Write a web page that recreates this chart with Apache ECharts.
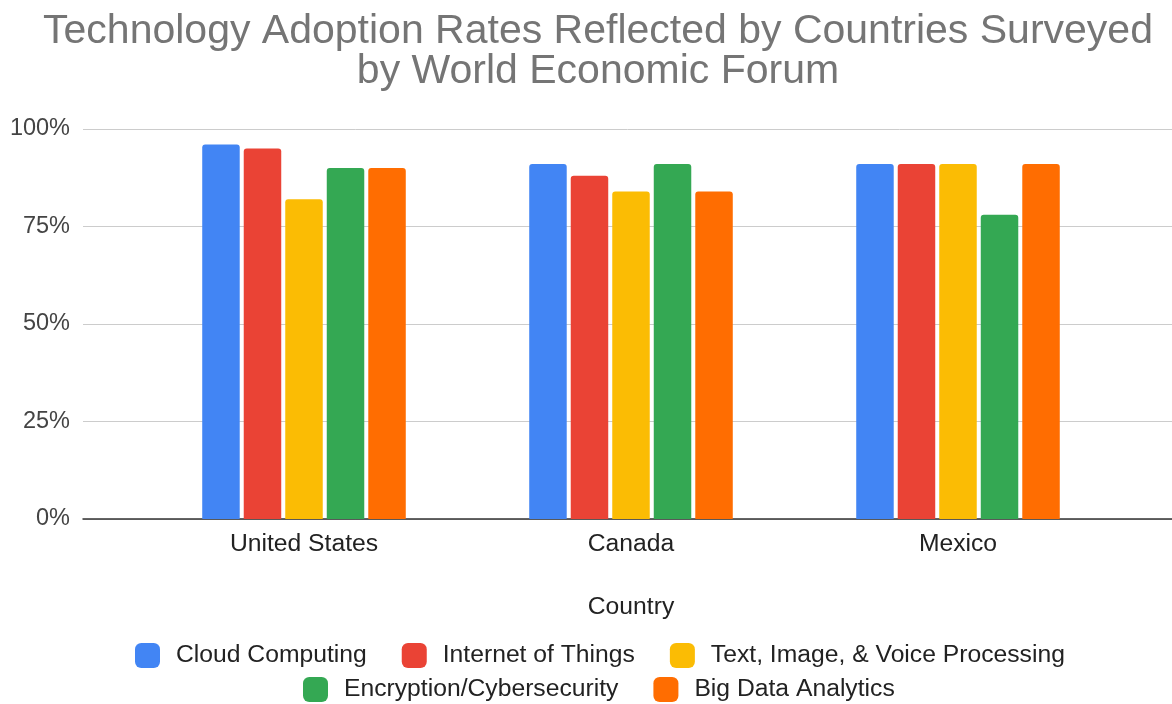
<!DOCTYPE html>
<html>
<head>
<meta charset="utf-8">
<script src="https://cdn.jsdelivr.net/npm/echarts@6/dist/echarts.min.js"></script>
<style>html,body{margin:0;padding:0;background:#fff}#c{width:1172px;height:704px}</style>
</head>
<body>
<div id="c"></div>
<script>
var categories = ['United States', 'Canada', 'Mexico'];
var cloudComputing = [96, 91, 91];
var internetOfThings = [95, 88, 91];
var textImageVoice = [82, 84, 91];
var encryption = [90, 91, 78];
var bigData = [90, 84, 91];
var seriesNames = ['Cloud Computing', 'Internet of Things', 'Text, Image, & Voice Processing', 'Encryption/Cybersecurity', 'Big Data Analytics'];
var yTicks = [0, 25, 50, 75, 100];

var colors = ['#4285F4', '#EA4335', '#FBBC04', '#34A853', '#FF6D01'];
var values = [cloudComputing, internetOfThings, textImageVoice, encryption, bigData];
var font = 'Arial, "Liberation Sans", sans-serif';

var chart = echarts.init(document.getElementById('c'), null, {renderer: 'canvas'});
var series = seriesNames.map(function (n, i) {
  return {
    name: n, type: 'bar', xAxisIndex: 0, yAxisIndex: 0,
    data: values[i], barWidth: 37.5, barGap: '10.7%',
    itemStyle: {color: colors[i], borderRadius: [3, 3, 0, 0]}
  };
});
var legendCommon = {
  itemWidth: 25, itemHeight: 25, itemGap: 35, icon: 'roundRect',
  textStyle: {fontSize: 24.7, color: '#222', fontFamily: font, padding: [0, 0, 0, 11]},
  selectedMode: false, padding: 0
};
chart.setOption({
  animation: false,
  color: colors,
  title: {
    text: 'Technology Adoption Rates Reflected by Countries Surveyed\nby World Economic Forum',
    left: 598, top: 12, padding: 0, textAlign: 'center',
    textStyle: {fontSize: 41, lineHeight: 40, color: '#757575', fontWeight: 'normal', fontFamily: font}
  },
  legend: [
    Object.assign({}, legendCommon, {top: 643, left: 135, data: seriesNames.slice(0, 3)}),
    Object.assign({}, legendCommon, {top: 677, left: 303, data: seriesNames.slice(3)})
  ],
  grid: [
    {left: 140.5, right: 50.5, top: 129, bottom: 185},
    {left: 83, right: 0, top: 129, bottom: 185}
  ],
  xAxis: [
    {
      type: 'category', gridIndex: 0, data: categories,
      axisLine: {show: false}, axisTick: {show: false},
      axisLabel: {fontSize: 24.7, color: '#222', fontFamily: font, margin: 13},
      name: 'Country', nameLocation: 'middle', nameGap: 76,
      nameTextStyle: {fontSize: 24.7, color: '#222', fontFamily: font}
    },
    {
      type: 'value', gridIndex: 1, min: 0, max: 1,
      axisLine: {show: true, onZero: false, lineStyle: {color: '#333', width: 1.5}},
      axisTick: {show: false}, axisLabel: {show: false}, splitLine: {show: false}
    }
  ],
  yAxis: [
    {
      type: 'value', gridIndex: 0, min: 0, max: 100, interval: 25,
      axisLabel: {show: false}, splitLine: {show: false}, axisLine: {show: false}, axisTick: {show: false}
    },
    {
      type: 'value', gridIndex: 1, min: 0, max: 100, interval: 25,
      axisLine: {show: false}, axisTick: {show: false},
      axisLabel: {formatter: '{value}%', fontSize: 23.5, color: '#444', fontFamily: font, margin: 13},
      splitLine: {lineStyle: {color: '#ccc', width: 1}}
    }
  ],
  series: series
});
</script>
</body>
</html>
